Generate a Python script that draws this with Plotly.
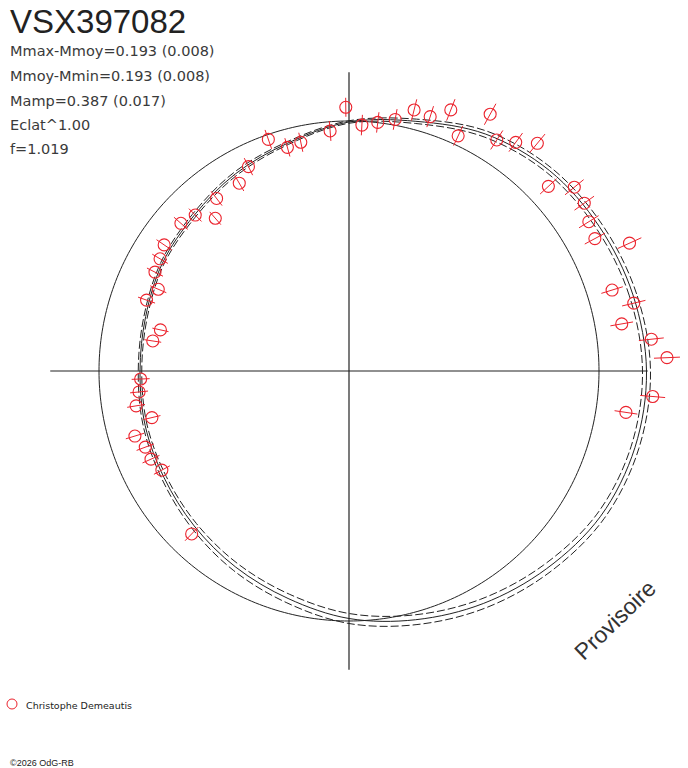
import numpy as np
import plotly.graph_objects as go

STAR_NAME = "VSX397082"
INFO_LINES = [
    "Mmax-Mmoy=0.193 (0.008)",
    "Mmoy-Mmin=0.193 (0.008)",
    "Mamp=0.387 (0.017)",
    "Eclat^1.00",
    "f=1.019",
]
OBSERVER = "Christophe Demeautis"
COPYRIGHT = "\u00a92026 OdG-RB"
STAMP = "Provisoire"

# observations : phase angle (deg), radius (reference circle = 1), radial error
OBS_THETA = [2.4, 6.0, 9.8, 13.4, 17.1, 24.5, 28.3, 31.9, 35.5, 39.2,
             42.8, 50.4, 53.9, 57.4, 61.2, 65.1, 68.7, 72.3, 76.0, 79.6,
             83.4, 87.0, 90.7, 94.5, 101.9, 105.4, 109.2, 116.2, 120.3, 127.5,
             131.2, 134.6, 138.7, 145.7, 149.3, 153.0, 156.8, 160.7, 167.7, 171.3,
             182.2, 185.7, 189.3, 193.3, 196.9, 200.5, 204.0, 207.9, 226.0, 351.5,
             355.2]
OBS_R = [1.273, 1.216, 1.107, 1.171, 1.101, 1.233, 1.117, 1.130, 1.156, 1.163,
         1.087, 1.182, 1.132, 1.097, 1.172, 1.037, 1.121, 1.068, 1.076, 1.023,
         1.001, 0.985, 1.055, 0.963, 0.935, 0.928, 0.981, 0.911, 0.870, 0.870,
         0.812, 0.876, 0.895, 0.895, 0.879, 0.871, 0.830, 0.858, 0.772, 0.794,
         0.834, 0.844, 0.863, 0.810, 0.895, 0.870, 0.867, 0.847, 0.906, 1.120,
         1.219]
OBS_ERR = [0.052, 0.050, 0.046, 0.048, 0.045, 0.052, 0.046, 0.046, 0.048, 0.048,
           0.045, 0.048, 0.046, 0.045, 0.048, 0.043, 0.046, 0.044, 0.044, 0.042,
           0.041, 0.041, 0.038, 0.040, 0.039, 0.038, 0.040, 0.038, 0.036, 0.036,
           0.034, 0.036, 0.037, 0.037, 0.036, 0.036, 0.035, 0.036, 0.033, 0.034,
           0.036, 0.036, 0.036, 0.035, 0.038, 0.037, 0.037, 0.036, 0.038, 0.046,
           0.050]

# fitted curve read every 15 deg, with its error band
FIT_THETA = [0, 15, 30, 45, 60, 75, 90, 105, 120, 135, 150, 165,
             180, 195, 210, 225, 240, 255, 270, 285, 300, 315, 330, 345, 360]
FIT_R = [1.190, 1.176, 1.156, 1.134, 1.094, 1.034, 0.996, 0.944, 0.910, 0.878, 0.862, 0.842,
         0.836, 0.844, 0.854, 0.876, 0.906, 0.942, 0.990, 1.030, 1.074, 1.118, 1.162, 1.184, 1.190]
FIT_ERR = [0.016, 0.015, 0.014, 0.013, 0.013, 0.009, 0.005, 0.006, 0.008, 0.008, 0.007, 0.007,
           0.007, 0.008, 0.010, 0.013, 0.016, 0.018, 0.020, 0.020, 0.020, 0.019, 0.017, 0.016, 0.016]

REF_RADIUS = 1.0
AXIS_HALF = 1.195
R_MAX = 1.35

W, H = 688, 768
CX, CY, PX_PER_UNIT = 349, 371, 250

RED = "rgb(235,35,45)"
INK = "#222222"


def paper_x(px):
    return px / W


def paper_y(py):
    return 1 - py / H


def build_figure():
    fig = go.Figure()

    # axes cross
    fig.add_trace(go.Scatterpolar(
        r=[AXIS_HALF, 0, AXIS_HALF, None, AXIS_HALF, 0, AXIS_HALF],
        theta=[0, 0, 180, None, 90, 90, 270],
        mode="lines", line=dict(color=INK, width=1.2),
        hoverinfo="skip", showlegend=False))

    # reference circle
    ref_theta = np.linspace(0, 360, 361)
    fig.add_trace(go.Scatterpolar(
        r=np.full(ref_theta.size, REF_RADIUS), theta=ref_theta,
        mode="lines", line=dict(color=INK, width=1),
        hoverinfo="skip", showlegend=False))

    # fitted curve and band
    fit_r = np.array(FIT_R)
    fit_err = np.array(FIT_ERR)
    for rr, dash in [(fit_r + fit_err, "8px,3px"), (fit_r - fit_err, "8px,3px"), (fit_r, "solid")]:
        fig.add_trace(go.Scatterpolar(
            r=rr, theta=FIT_THETA, mode="lines",
            line=dict(color=INK, width=1, dash=dash, shape="spline", smoothing=1),
            hoverinfo="skip", showlegend=False))

    # radial error bars
    bar_r, bar_t = [], []
    for t, r, e in zip(OBS_THETA, OBS_R, OBS_ERR):
        bar_r += [r - e, r + e, None]
        bar_t += [t, t, None]
    fig.add_trace(go.Scatterpolar(
        r=bar_r, theta=bar_t, mode="lines",
        line=dict(color=RED, width=1), hoverinfo="skip", showlegend=False))

    fig.add_trace(go.Scatterpolar(
        r=OBS_R, theta=OBS_THETA, mode="markers", name=OBSERVER,
        marker=dict(symbol="circle-open", size=12, color=RED, line=dict(width=1.1, color=RED)),
        showlegend=False))

    rad = R_MAX * PX_PER_UNIT
    fig.update_layout(
        width=W, height=H,
        margin=dict(l=0, r=0, t=0, b=0),
        paper_bgcolor="white",
        polar=dict(
            domain=dict(x=[paper_x(CX - rad), paper_x(CX + rad)],
                        y=[paper_y(CY + rad), paper_y(CY - rad)]),
            bgcolor="rgba(0,0,0,0)",
            radialaxis=dict(range=[0, R_MAX], visible=False),
            angularaxis=dict(visible=False, rotation=0, direction="counterclockwise"),
        ),
    )

    ann = [dict(text=STAR_NAME, x=paper_x(8), y=paper_y(21),
                font=dict(family="Liberation Sans, Arial", size=33, color=INK))]
    for txt, py in zip(INFO_LINES, [51, 76, 101, 125, 149]):
        ann.append(dict(text=txt, x=paper_x(8), y=paper_y(py),
                        font=dict(family="DejaVu Sans", size=14.5, color="#3a3a3a")))
    ann.append(dict(text=OBSERVER, x=paper_x(24), y=paper_y(705),
                    font=dict(family="DejaVu Sans", size=9.5, color=INK)))
    ann.append(dict(text=COPYRIGHT, x=paper_x(8), y=paper_y(763),
                    font=dict(family="Liberation Sans, Arial", size=9, color=INK)))
    for a in ann:
        a.update(xref="paper", yref="paper", xanchor="left", yanchor="middle", showarrow=False)
    ann.append(dict(text=STAMP, x=paper_x(615), y=paper_y(620), xref="paper", yref="paper",
                    xanchor="center", yanchor="middle", showarrow=False, textangle=-44,
                    font=dict(family="Liberation Sans, Arial", size=23, color="#333333")))
    fig.update_layout(annotations=ann)

    # legend symbol
    fig.add_shape(type="circle", xref="paper", yref="paper",
                  xsizemode="pixel", ysizemode="pixel",
                  xanchor=paper_x(12), yanchor=paper_y(704),
                  x0=-5, x1=5, y0=-5, y1=5,
                  line=dict(color=RED, width=1))
    return fig


fig = build_figure()
fig.write_html("out.html", config={"displayModeBar": False},
               post_script="document.body.style.margin='0px';")
